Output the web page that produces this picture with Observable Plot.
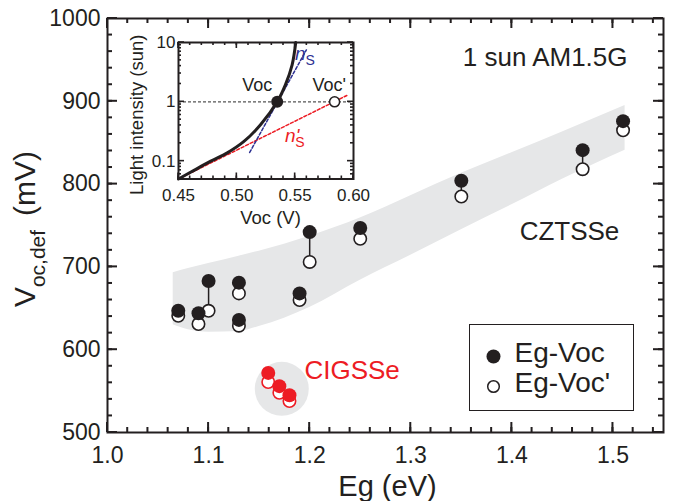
<!DOCTYPE html>
<html>
<head>
<meta charset="utf-8">
<script src="https://cdn.jsdelivr.net/npm/d3@7"></script>
<script src="https://cdn.jsdelivr.net/npm/@observablehq/plot@0.6"></script>
<style>
  html, body { margin: 0; padding: 0; background: #fff; }
  #wrap { position: relative; width: 696px; height: 501px; overflow: hidden; }
  #wrap > svg { position: absolute; }
  #legend { position: absolute; box-sizing: border-box; background: #fff; }
</style>
</head>
<body>
<div id="wrap"></div>
<script>
// ---------------- data ----------------
// CZTSSe devices
const egCZTSSe       = [1.07, 1.09, 1.10, 1.13, 1.13, 1.19, 1.20, 1.25, 1.35, 1.47, 1.51];
const vocCZTSSe      = [647, 644, 683, 681, 636, 668, 742, 747, 804, 841, 876];
const vocPrimeCZTSSe = [641, 631, 647, 668, 629, 660, 706, 734, 785, 818, 865];
// CIGSSe devices
const egCIGSSe       = [1.159, 1.170, 1.180];
const vocCIGSSe      = [572, 556, 545];
const vocPrimeCIGSSe = [561, 548, 538];
// shaded CZTSSe band
const bandEg   = [1.065, 1.08, 1.10, 1.13, 1.15, 1.20, 1.25, 1.30, 1.35, 1.40, 1.45, 1.512];
const bandLow  = [630, 624, 621, 622, 628, 651, 684, 714, 745, 775, 806, 841];
const bandHigh = [693, 698, 704, 713, 719, 737, 759, 786, 813, 838, 863, 895];
// shaded CIGSSe cluster centre
const clusterEg  = [1.1724];
const clusterVoc = [552.7];
// inset: light-intensity dependent Voc
const insetVoc = [0.45, 0.4633, 0.4776, 0.4918, 0.5061, 0.5203, 0.5346, 0.5417, 0.5474, 0.5505];
const insetSun = [0.05, 0.07, 0.1, 0.138, 0.215, 0.41, 1, 1.95, 4.2, 10];
const nsLineVoc  = [0.511, 0.5596];
const nsLineSun  = [0.14, 7.5];
const nspLineVoc = [0.45, 0.5943];
const nspLineSun = [0.05, 1.28];
const vocPoint      = [0.5346];
const vocPrimePoint = [0.5838];
// tick labels / texts
const xTicks = [1.0, 1.1, 1.2, 1.3, 1.4, 1.5];
const yTicks = [500, 600, 700, 800, 900, 1000];
const insetXTicks = [0.45, 0.50, 0.55, 0.60];
const insetYTicks = [0.1, 1, 10];
const legendLabels = ["Eg-Voc", "Eg-Voc'"];

// ---------------- styles ----------------
const ink = "#231f20", red = "#ed1c24", blue = "#2e3192", shade = "#e6e7e8";
const font = "'Liberation Sans', Arial, Helvetica, sans-serif";

// ---------------- tables ----------------
const pairs = [
  ...egCZTSSe.map((eg, i) => ({eg, voc: vocCZTSSe[i], vocp: vocPrimeCZTSSe[i], c: ink})),
  ...egCIGSSe.map((eg, i) => ({eg, voc: vocCIGSSe[i], vocp: vocPrimeCIGSSe[i], c: red}))
];
const band = bandEg.map((eg, i) => ({eg, lo: bandLow[i], hi: bandHigh[i]}));
const cluster = clusterEg.map((eg, i) => ({eg, voc: clusterVoc[i]}));

const xMinor = d3.range(0, 28).map(i => +(1 + i * 0.02).toFixed(2));
const yMinor = d3.range(500, 1001, 20);

const wrap = document.getElementById("wrap");

// inward tick marks on all four sides, placed with the plot's own x / y scales
function inwardTicks(svg, xMaj, xMin, yMaj, yMin, majLen, minLen, w) {
  const sx = svg.scale("x"), sy = svg.scale("y");
  const [xl, xr] = sx.range, [yb, yt] = sy.range;
  const g = d3.select(svg).append("g").attr("fill", ink);
  const vx = (vals, len) => vals.forEach(v => {
    const px = sx.apply(v);
    g.append("rect").attr("x", px - w / 2).attr("y", yb - len).attr("width", w).attr("height", len);
    g.append("rect").attr("x", px - w / 2).attr("y", yt).attr("width", w).attr("height", len);
  });
  const vy = (vals, len) => vals.forEach(v => {
    const py = sy.apply(v);
    g.append("rect").attr("x", xl).attr("y", py - w / 2).attr("width", len).attr("height", w);
    g.append("rect").attr("x", xr - len).attr("y", py - w / 2).attr("width", len).attr("height", w);
  });
  vx(xMin, minLen); vx(xMaj, majLen); vy(yMin, minLen); vy(yMaj, majLen);
}

// ---------------- main chart ----------------
const main = Plot.plot({
  width: 696, height: 501,
  marginLeft: 107, marginRight: 33, marginTop: 18, marginBottom: 69,
  style: {fontFamily: font, color: ink, background: "white"},
  x: {domain: [1.0, 1.55]},
  y: {domain: [500, 1000]},
  marks: [
    Plot.areaY(band, {x: "eg", y1: "lo", y2: "hi", fill: shade, curve: "monotone-x"}),
    Plot.dot(cluster, {x: "eg", y: "voc", r: 27, fill: shade, stroke: "none"}),
    Plot.ruleX(pairs, {x: "eg", y1: "voc", y2: "vocp", stroke: ink, strokeWidth: 1.5}),
    Plot.dot(pairs, {x: "eg", y: "vocp", r: 6.2, fill: "white", stroke: "c", strokeWidth: 1.6}),
    Plot.dot(pairs, {x: "eg", y: "voc", r: 7, fill: "c", stroke: "none"}),
    Plot.frame({stroke: ink, strokeWidth: 2}),
    Plot.axisX(xTicks, {anchor: "bottom", tickSize: 0, tickPadding: 14, tickFormat: d3.format(".1f"), label: null, fontSize: 23}),
    Plot.axisY(yTicks, {anchor: "left", tickSize: 0, tickPadding: 7, tickFormat: d3.format("d"), label: null, fontSize: 23}),
    Plot.text(["Eg (eV)"], {text: d => d, frameAnchor: "bottom", lineAnchor: "bottom", dx: 2, dy: 63, fontSize: 29, fill: ink}),
    Plot.text(["1 sun AM1.5G"], {text: d => d, frameAnchor: "top-right", textAnchor: "end", lineAnchor: "top", dx: -36, dy: 29, fontSize: 26, fill: ink}),
    Plot.text([{t: "CZTSSe", eg: 1.457, voc: 742}], {x: "eg", y: "voc", text: "t", fontSize: 26, fill: ink}),
    Plot.text([{t: "CIGSSe", eg: 1.242, voc: 575}], {x: "eg", y: "voc", text: "t", fontSize: 26, fill: red})
  ]
});
main.style.left = "0px"; main.style.top = "0px";
wrap.appendChild(main);
inwardTicks(main, xTicks, xMinor, yTicks, yMinor, 10, 5, 2);

// y-axis title with subscript
const yl = d3.select(main).append("text")
  .attr("transform", "translate(35,229) rotate(-90)")
  .attr("text-anchor", "middle").attr("fill", ink).style("font-family", font);
yl.append("tspan").attr("font-size", 30).text("V");
yl.append("tspan").attr("font-size", 21).attr("dy", 10).text("oc,def");
yl.append("tspan").attr("font-size", 30).attr("dy", -10).attr("dx", 14).text("(mV)");

// ---------------- inset (its own small SVG placed over the inset area) ----------------
const curve = insetVoc.map((v, i) => ({v, s: insetSun[i]}));
const nsLine = nsLineVoc.map((v, i) => ({v, s: nsLineSun[i]}));
const nspLine = nspLineVoc.map((v, i) => ({v, s: nspLineSun[i]}));
const insXMinor = d3.range(0, 16).map(i => +(0.45 + i * 0.01).toFixed(2));
const insYMinor = [0.06, 0.07, 0.08, 0.09, 0.2, 0.3, 0.4, 0.5, 0.6, 0.7, 0.8, 0.9, 2, 3, 4, 5, 6, 7, 8, 9];

const IN = {left: 112, top: 30, w: 246, h: 202};           // svg box in page pixels
const inset = Plot.plot({
  width: IN.w, height: IN.h,
  marginLeft: 178 - IN.left, marginTop: 42 - IN.top,
  marginRight: IN.left + IN.w - 353, marginBottom: IN.top + IN.h - 178.5,
  style: {fontFamily: font, color: ink, background: "transparent", overflow: "visible"},
  x: {domain: [0.45, 0.60]},
  y: {type: "log", domain: [0.05, 10]},
  marks: [
    Plot.frame({fill: "white", stroke: "none"}),
    Plot.ruleY([1], {stroke: "#555", strokeWidth: 1.2, strokeDasharray: "3,2"}),
    Plot.line(nspLine, {x: "v", y: "s", stroke: red, strokeWidth: 1.5, strokeDasharray: "3,2"}),
    Plot.line(nsLine, {x: "v", y: "s", stroke: blue, strokeWidth: 1.5, strokeDasharray: "3,2"}),
    Plot.line(curve, {x: "v", y: "s", stroke: ink, strokeWidth: 3, curve: "catmull-rom"}),
    Plot.dot(vocPoint, {x: d => d, y: () => 1, r: 6, fill: ink, stroke: "none"}),
    Plot.dot(vocPrimePoint, {x: d => d, y: () => 1, r: 5, fill: "white", stroke: ink, strokeWidth: 1.5}),
    Plot.text([{t: "Voc", v: 0.5175, s: 1.9}, {t: "Voc'", v: 0.5792, s: 1.9}], {x: "v", y: "s", text: "t", fontSize: 18, fill: ink}),
    Plot.frame({stroke: ink, strokeWidth: 2}),
    Plot.axisX(insetXTicks, {anchor: "bottom", tickSize: 0, tickPadding: 10, tickFormat: d3.format(".2f"), label: null, fontSize: 17}),
    Plot.axisY(insetYTicks, {anchor: "left", tickSize: 0, tickPadding: 3, tickFormat: d => String(d), label: null, fontSize: 17}),
    Plot.text(["Voc (V)"], {text: d => d, frameAnchor: "bottom", lineAnchor: "bottom", dx: 4.5, dy: 44.5, fontSize: 18.5, fill: ink}),
    Plot.text(["Light intensity (sun)"], {text: d => d, frameAnchor: "left", textAnchor: "middle", rotate: -90, lineAnchor: "bottom", dx: -36, dy: 4, fontSize: 18.5, fill: ink})
  ]
});
inset.style.left = IN.left + "px"; inset.style.top = IN.top + "px";
wrap.appendChild(inset);
inwardTicks(inset, insetXTicks, insXMinor, insetYTicks, insYMinor, 6, 3, 1.6);

// n_S and n'_S labels positioned through the inset scales
const sx = inset.scale("x"), sy = inset.scale("y");
function nLabel(v, s, prime, color) {
  const t = d3.select(inset).append("text")
    .attr("x", sx.apply(v)).attr("y", sy.apply(s))
    .attr("fill", color).style("font-family", font);
  t.append("tspan").attr("font-size", 19).attr("font-style", "italic").text("n");
  if (prime) {
    t.append("tspan").attr("font-size", 19).attr("font-style", "italic").text("'");
    t.append("tspan").attr("font-size", 14).attr("dx", -4).attr("dy", 5).text("S");
  } else {
    t.append("tspan").attr("font-size", 14).attr("dy", 5).text("S");
  }
}
nLabel(0.5588, 4.9, false, blue);
nLabel(0.5502, 0.207, true, red);

// ---------------- legend ----------------
const legend = d3.select(wrap).append("div").attr("id", "legend")
  .style("left", "469px").style("top", "324px")
  .style("width", "165px").style("height", "87px")
  .style("border", `1.5px solid ${ink}`);
const lsvg = legend.append("svg").attr("width", 162).attr("height", 84)
  .style("position", "absolute").style("left", "0").style("top", "0");
legendLabels.forEach((lab, i) => {
  const cy = 31.5 + i * 30;
  if (i === 0) lsvg.append("circle").attr("cx", 23.5).attr("cy", cy).attr("r", 7).attr("fill", ink);
  else lsvg.append("circle").attr("cx", 23.5).attr("cy", cy).attr("r", 5.8).attr("fill", "white").attr("stroke", ink).attr("stroke-width", 1.5);
  lsvg.append("text").attr("x", 44.5).attr("y", 36.5 + i * 30).attr("font-size", 28)
    .style("font-family", font).attr("fill", ink).text(lab);
});
</script>
</body>
</html>
